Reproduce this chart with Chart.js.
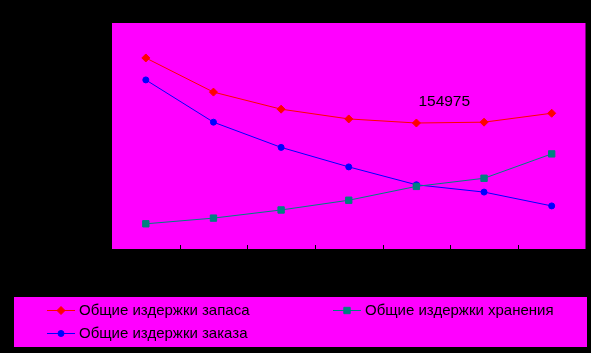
<!DOCTYPE html>
<html>
<head>
<meta charset="utf-8">
<script src="https://cdn.jsdelivr.net/npm/chart.js@4"></script>
<style>
  html, body { margin: 0; padding: 0; background: #000; }
  #wrap { width: 591px; height: 353px; }
</style>
</head>
<body>
<div id="wrap"><canvas id="graph" width="591" height="353"></canvas></div>
<script>
// значения
var periodes = ["1", "2", "3", "4", "5", "6", "7"];
var zapas = [235000, 193000, 172000, 160000, 154975, 156000, 167000];
var zakaz = [208000, 156000, 125000, 101000, 79000, 70000, 53000];
var hranenie = [31000, 38000, 48000, 60000, 77000, 87000, 117000];
var labelMin = "154975";

var fond = "#ff00ff";

// fond du graphe + marques de l'axe X
var fondPlugin = {
    id: "fond",
    beforeDatasetsDraw: function (chart) {
        var ctx = chart.ctx;
        var a = chart.chartArea;
        ctx.save();
        ctx.fillStyle = fond;
        ctx.fillRect(a.left, a.top, a.right - a.left, a.bottom - a.top);
        ctx.strokeStyle = "#000";
        ctx.lineWidth = 1;
        var x = chart.scales.x;
        for (let i = 1; i < periodes.length; i++) {
            var px = Math.round((x.getPixelForValue(i - 1) + x.getPixelForValue(i)) / 2) + 0.5;
            ctx.beginPath();
            ctx.moveTo(px, a.bottom - 4);
            ctx.lineTo(px, a.bottom);
            ctx.stroke();
        }
        ctx.restore();
    },
    afterDatasetsDraw: function (chart) {
        var ctx = chart.ctx;
        ctx.save();
        // étiquette du minimum
        var idx = zapas.indexOf(154975);
        var pt = chart.getDatasetMeta(0).data[idx];
        ctx.font = "15.5px 'Liberation Sans', Arial, sans-serif";
        ctx.fillStyle = "#000";
        ctx.textAlign = "left";
        ctx.textBaseline = "middle";
        ctx.fillText(labelMin, pt.x + 2, pt.y - 21);

        // légende
        ctx.fillStyle = fond;
        ctx.fillRect(14, 297, 573, 50);
        var pos = [[47, 310], [333, 310], [47, 333]];
        var ds = chart.data.datasets;
        ctx.font = "15px 'Liberation Sans', Arial, sans-serif";
        for (let i = 0; i < ds.length; i++) {
            var lx = pos[i][0], ly = pos[i][1] + 0.5;
            ctx.strokeStyle = ds[i].borderColor;
            ctx.fillStyle = ds[i].backgroundColor;
            ctx.lineWidth = 1;
            ctx.beginPath();
            ctx.moveTo(lx, ly);
            ctx.lineTo(lx + 28, ly);
            ctx.stroke();
            Chart.helpers.drawPoint(ctx, {
                pointStyle: ds[i].pointStyle,
                radius: ds[i].pointRadius,
                borderWidth: 1
            }, lx + 14, ly);
            ctx.fillStyle = "#000";
            ctx.fillText(ds[i].label, lx + 32, ly);
        }
        ctx.restore();
    }
};

new Chart(document.getElementById("graph").getContext("2d"), {
    type: "line",
    data: {
        labels: periodes,
        datasets: [{
            label: "Общие издержки запаса",
            data: zapas,
            borderColor: "#ff0000",
            backgroundColor: "#ff0000",
            pointStyle: "rectRot",
            pointRadius: 4,
            borderWidth: 1,
            fill: false
        }, {
            label: "Общие издержки хранения",
            data: hranenie,
            borderColor: "#008080",
            backgroundColor: "#008080",
            pointStyle: "rect",
            pointRadius: 4.5,
            borderWidth: 1,
            fill: false
        }, {
            label: "Общие издержки заказа",
            data: zakaz,
            borderColor: "#0000ff",
            backgroundColor: "#0000ff",
            pointStyle: "circle",
            pointRadius: 3,
            borderWidth: 1,
            fill: false
        }]
    },
    options: {
        responsive: false,
        animation: false,
        layout: { padding: { left: 112, top: 23, right: 5, bottom: 104 } },
        plugins: {
            legend: { display: false },
            tooltip: { enabled: false }
        },
        scales: {
            x: { display: false, offset: true },
            y: { display: false, min: 0, max: 278000 }
        }
    },
    plugins: [fondPlugin]
});
</script>
</body>
</html>
